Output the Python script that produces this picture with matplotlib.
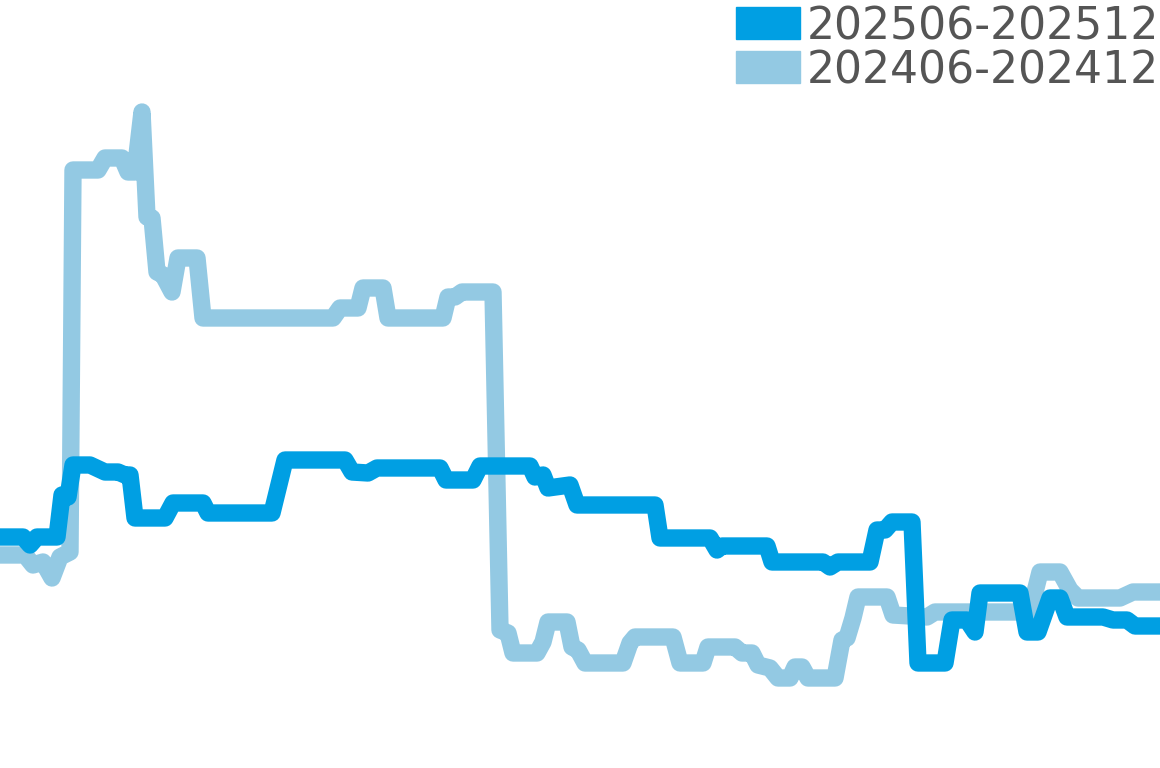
import matplotlib

matplotlib.use("Agg")
import matplotlib.pyplot as plt
from matplotlib.patches import Rectangle

# series values (x = day index, y = metric)
prev_label = "202406-202412"
prev_x = [0, 2.5, 3.3, 4.3, 5.2, 6.0, 7.0, 7.3, 9.8, 10.5,
          12.2, 12.8, 13.5, 14.2, 14.7, 15.2, 15.7, 16.3, 17.2, 17.8,
          19.7, 20.3, 33.3, 34.0, 35.8, 36.3, 38.3, 38.8, 44.3, 44.8,
          45.5, 46.2, 49.3, 50.0, 50.8, 51.3, 53.7, 54.3, 54.8, 56.7,
          57.2, 57.8, 58.5, 62.3, 63.0, 63.5, 67.3, 68.0, 70.3, 70.8,
          73.5, 74.2, 75.2, 75.8, 77.0, 77.8, 79.0, 79.5, 80.2, 80.8,
          83.5, 84.2, 84.7, 85.3, 85.8, 88.7, 89.3, 92.7, 93.5, 103.0,
          104.0, 106.0, 107.0, 107.8, 112.0, 113.3, 116.0]
prev_y = [21.3, 21.3, 20.3, 20.6, 19.0, 21.1, 21.6, 59.8, 59.8, 61.0,
          61.0, 59.6, 59.6, 65.6, 55.1, 55.0, 49.6, 49.3, 47.6, 51.0,
          51.0, 45.0, 45.0, 46.0, 46.0, 48.0, 48.0, 45.0, 45.0, 47.1,
          47.1, 47.6, 47.6, 13.8, 13.5, 11.5, 11.5, 12.6, 14.6, 14.6,
          12.1, 11.8, 10.5, 10.5, 12.5, 13.1, 13.1, 10.5, 10.5, 12.1,
          12.1, 11.5, 11.5, 10.3, 10.0, 9.0, 9.0, 10.1, 10.1, 9.0,
          9.0, 12.8, 13.0, 15.0, 17.1, 17.1, 15.3, 15.1, 15.6, 15.6,
          19.6, 19.6, 17.8, 17.0, 17.0, 17.6, 17.6]

curr_label = "202506-202512"
curr_x = [0, 2.3, 3.0, 3.7, 5.7, 6.2, 6.8, 7.3, 9.0, 10.5,
          11.8, 12.5, 13.0, 13.5, 16.5, 17.3, 20.3, 20.8, 27.2, 28.5,
          34.5, 35.2, 36.8, 37.7, 44.0, 44.6, 47.3, 48.0, 53.0, 53.5,
          54.3, 54.8, 57.0, 57.7, 65.5, 66.0, 71.0, 71.7, 72.2, 76.7,
          77.2, 82.3, 83.0, 83.8, 87.0, 87.7, 88.5, 89.2, 91.2, 91.8,
          94.5, 95.2, 96.7, 97.5, 98.0, 102.0, 102.7, 103.8, 105.0, 106.0,
          106.7, 110.3, 111.3, 112.7, 113.5, 116.0]
curr_y = [23.1, 23.1, 22.3, 23.1, 23.1, 27.3, 27.1, 30.3, 30.3, 29.6,
          29.6, 29.3, 29.3, 25.0, 25.0, 26.5, 26.5, 25.5, 25.5, 30.8,
          30.8, 29.6, 29.5, 30.0, 30.0, 28.8, 28.8, 30.2, 30.2, 29.1,
          29.3, 28.0, 28.3, 26.3, 26.3, 23.0, 23.0, 21.8, 22.2, 22.2,
          20.6, 20.6, 20.1, 20.6, 20.6, 23.8, 23.8, 24.6, 24.6, 10.5,
          10.5, 14.8, 14.8, 13.6, 17.5, 17.5, 13.6, 13.6, 17.0, 17.0,
          15.1, 15.1, 14.8, 14.8, 14.2, 14.2]

CURR_COLOR = "#009FE3"
PREV_COLOR = "#93C9E3"

fig = plt.figure(figsize=(11.6, 7.68), dpi=100)
ax = fig.add_axes([0, 0, 1, 1])
ax.axis("off")

line_kw = dict(linewidth=12.5, solid_joinstyle="round", solid_capstyle="round")
ax.plot(prev_x, prev_y, color=PREV_COLOR, **line_kw)
ax.plot(curr_x, curr_y, color=CURR_COLOR, **line_kw)
ax.set_xlim(0, 116)
ax.set_ylim(0, 76.8)

# legend, drawn by hand in the top right corner
W, H = 1160, 768
for i, (label, color) in enumerate([(curr_label, CURR_COLOR), (prev_label, PREV_COLOR)]):
    top = 7 + i * 44
    ax.add_patch(Rectangle((736 / W, 1 - (top + 32) / H), 64 / W, 32 / H,
                           transform=ax.transAxes, color=color, clip_on=False))
    ax.text(807 / W, 1 - (top + 32) / H, label, transform=ax.transAxes,
            fontsize=31.8, color="#555555", ha="left", va="baseline")

fig.savefig("out.png", dpi=100)
plt.close(fig)
